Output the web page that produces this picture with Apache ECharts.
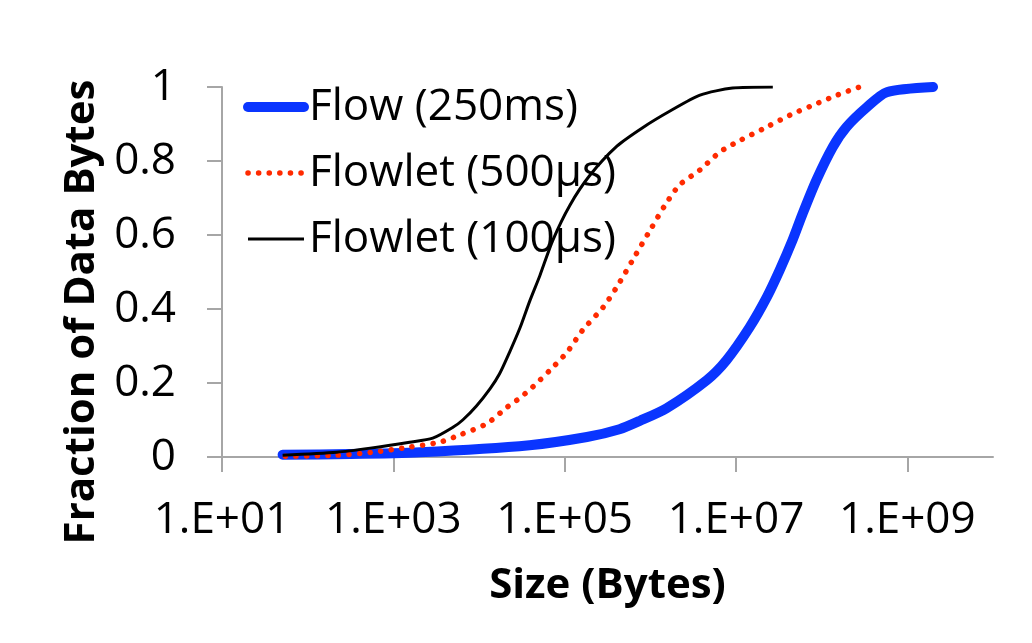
<!DOCTYPE html>
<html>
<head>
<meta charset="utf-8">
<script src="https://cdn.jsdelivr.net/npm/echarts@6/dist/echarts.min.js"></script>
<style>
html,body{margin:0;padding:0;background:#fff;}
#chart{width:1032px;height:643px;}
</style>
</head>
<body>
<div id="chart"></div>
<script>
// Sizes in bytes (x) and cumulative fraction of data bytes (y)
const flowSize = [51, 316, 2042, 38900, 182000, 436500, 758600, 1549000, 4571000, 7762000, 14450000, 22910000, 32360000, 45710000, 60260000, 87100000, 134900000, 195000000, 338800000, 575400000, 1995000000];
const flowFrac = [0.006, 0.008, 0.013, 0.032, 0.054, 0.075, 0.098, 0.132, 0.208, 0.262, 0.351, 0.432, 0.505, 0.586, 0.659, 0.749, 0.838, 0.892, 0.946, 0.986, 1.0];

const flowlet500Size = [55, 219, 537, 1549, 3467, 6026, 12300, 21380, 30200, 42660, 67610, 107200, 162200, 281800, 407400, 631000, 977200, 1479000, 2188000, 3802000, 6457000, 10230000, 22910000, 42660000, 79430000, 151400000, 275400000];
const flowlet500Frac = [0.002, 0.005, 0.012, 0.027, 0.04, 0.06, 0.09, 0.135, 0.16, 0.19, 0.235, 0.284, 0.343, 0.405, 0.46, 0.535, 0.61, 0.68, 0.735, 0.776, 0.824, 0.851, 0.892, 0.924, 0.951, 0.978, 1.0];

const flowlet100Size = [51, 219, 537, 1549, 2884, 5012, 6457, 9333, 13490, 17380, 22910, 30200, 38900, 51290, 72440, 114800, 195000, 407400, 812800, 1698000, 3802000, 9120000, 26900000];
const flowlet100Frac = [0.005, 0.013, 0.024, 0.04, 0.051, 0.081, 0.10, 0.138, 0.185, 0.225, 0.285, 0.35, 0.42, 0.49, 0.585, 0.68, 0.76, 0.84, 0.89, 0.935, 0.978, 0.997, 1.0];

const xTicks = [10, 1000, 100000, 10000000, 1000000000];
const seriesNames = ['Flow (250ms)', 'Flowlet (500\u00b5s)', 'Flowlet (100\u00b5s)'];

const pairs = (xs, ys) => xs.map((x, i) => [x, ys[i]]);
const FONT = 'Open Sans';
const AXIS_GRAY = '#a6a6a6';

const chart = echarts.init(document.getElementById('chart'), null, {renderer: 'canvas'});
chart.setOption({
  backgroundColor: '#ffffff',
  animation: false,
  textStyle: {fontFamily: FONT},
  grid: {left: 222, top: 87, right: 39, bottom: 186, containLabel: false, outerBoundsMode: 'none'},
  legend: {
    orient: 'vertical',
    left: 238,
    top: 80,
    itemWidth: 56,
    itemHeight: 14,
    itemGap: 22,
    lineStyle: {width: 'inherit'},
    itemStyle: {opacity: 0},
    textStyle: {fontFamily: FONT, fontSize: 44, color: '#000'},
    data: seriesNames
  },
  xAxis: {
    type: 'log',
    logBase: 10,
    min: 10,
    max: 1e10,
    name: 'Size (Bytes)',
    nameLocation: 'middle',
    nameGap: 108,
    nameTextStyle: {fontFamily: FONT, fontWeight: 'bold', fontSize: 42, color: '#000'},
    axisLine: {show: true, lineStyle: {color: AXIS_GRAY, width: 2}},
    axisTick: {show: true, inside: false, length: 15, customValues: xTicks, lineStyle: {color: AXIS_GRAY, width: 2}},
    axisLabel: {
      customValues: xTicks,
      margin: 41,
      fontFamily: FONT, fontSize: 44, color: '#000',
      formatter: v => '1.E+' + String(Math.round(Math.log10(v))).padStart(2, '0')
    },
    splitLine: {show: false},
    minorTick: {show: false}
  },
  yAxis: {
    type: 'value',
    min: 0,
    max: 1,
    interval: 0.2,
    name: 'Fraction of Data Bytes',
    nameLocation: 'middle',
    nameGap: 116,
    nameRotate: 90,
    nameTextStyle: {fontFamily: FONT, fontWeight: 'bold', fontSize: 42, color: '#000', padding: [0, 80, 0, 0]},
    axisLine: {show: true, lineStyle: {color: AXIS_GRAY, width: 2}},
    axisTick: {show: true, inside: false, length: 15, lineStyle: {color: AXIS_GRAY, width: 2}},
    axisLabel: {margin: 46, fontFamily: FONT, fontSize: 44, color: '#000'},
    splitLine: {show: false}
  },
  series: [
    {
      name: seriesNames[0], type: 'line', symbol: 'none', showSymbol: false,
      data: pairs(flowSize, flowFrac), smooth: 0.25,
      color: '#0a35ff',
      lineStyle: {color: '#0a35ff', width: 10, cap: 'round', join: 'round'},
      z: 2
    },
    {
      name: seriesNames[1], type: 'line', symbol: 'none', showSymbol: false,
      data: pairs(flowlet500Size, flowlet500Frac), smooth: 0.25,
      color: '#ff2a00',
      lineStyle: {color: '#ff2a00', width: 5.5, type: [0.1, 10.5], cap: 'round'},
      z: 3
    },
    {
      name: seriesNames[2], type: 'line', symbol: 'none', showSymbol: false,
      data: pairs(flowlet100Size, flowlet100Frac), smooth: 0.25,
      color: '#000000',
      lineStyle: {color: '#000000', width: 3},
      z: 4
    }
  ]
});
</script>
</body>
</html>
